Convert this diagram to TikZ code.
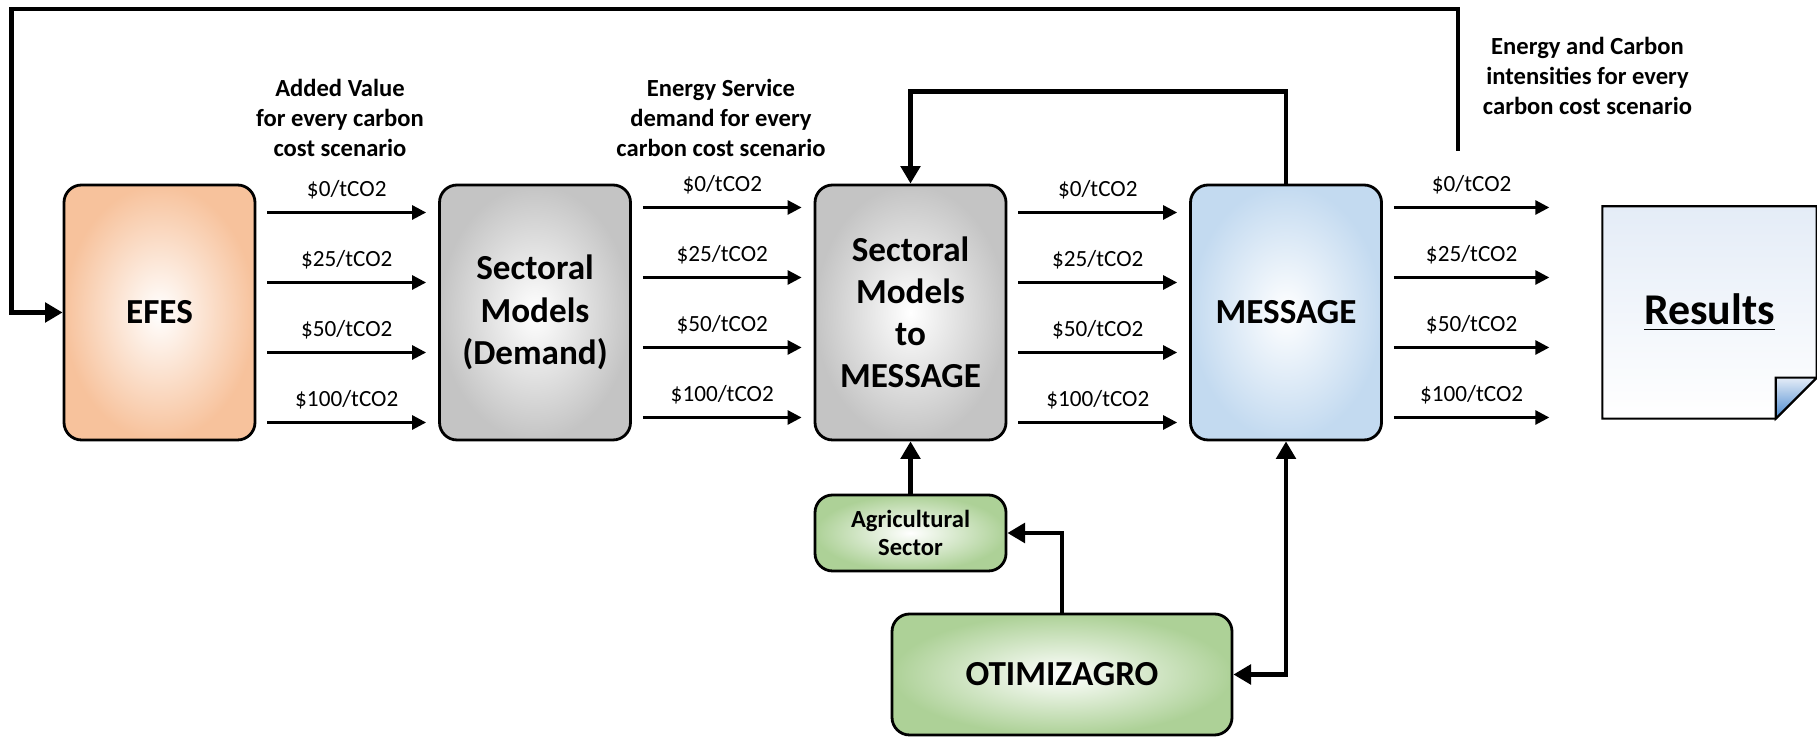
\documentclass[tikz,border=0pt]{standalone}
\usepackage{fontspec}
\setmainfont{Carlito}
\usetikzlibrary{arrows.meta, positioning, calc, backgrounds}
\definecolor{cOrange}{HTML}{F7C29C}
\definecolor{cGray}{HTML}{C4C4C4}
\definecolor{cBlue}{HTML}{C3DAF0}
\definecolor{cGreen}{HTML}{ADD197}
\definecolor{cFold}{HTML}{4A8AD0}
\definecolor{cPage}{HTML}{E4ECF7}

\begin{document}
\begin{tikzpicture}[
  model/.style={draw=black, rounded corners=5pt, line width=0.8pt,
    inner color=white, outer color=#1,
    minimum width=1.91cm, minimum height=2.55cm,
    font=\fontsize{10}{12}\selectfont\bfseries, align=center},
  subbox/.style={model=#1, minimum width=1.91cm, minimum height=0.76cm,
    font=\fontsize{7}{8.2}\selectfont\bfseries},
  flow/.style={-{Triangle[length=4pt,width=4pt]}, line width=0.8pt},
  feedback/.style={-{Triangle[length=5pt,width=5.5pt]}, line width=1.4pt},
  cost/.style={font=\fontsize{6.6}{8}\selectfont, inner sep=1pt, above=2.5pt},
  note/.style={font=\fontsize{7}{8.5}\selectfont\bfseries, align=center}
]
  \useasboundingbox (0,0) rectangle (18.17,7.37);

  \node[model=cOrange] (efes) at (1.595,4.245) {EFES};
  \node[model=cGray] (sm) at (5.35,4.245) {Sectoral\\Models\\(Demand)};
  \node[model=cGray] (smtm) at (9.105,4.245) {Sectoral\\Models\\to\\MESSAGE};
  \node[model=cBlue] (message) at (12.86,4.245) {MESSAGE};
  \node[font=\fontsize{12.5}{14}\selectfont\bfseries, minimum width=2.13cm,
    minimum height=2.11cm] (results) at (17.095,4.245) {\underline{Results}};

  \node[subbox=cGreen] (agri) at (9.105,2.04) {Agricultural\\Sector};
  \node[model=cGreen, minimum width=3.40cm, minimum height=1.21cm] (otim) at (10.62,0.625) {OTIMIZAGRO};

  \begin{scope}[on background layer]
    \draw[line width=0.6pt, top color=cPage, bottom color=white] (results.north west) -- (results.north east)
      -- ([yshift=0.41cm]results.south east) -- ([xshift=-0.41cm]results.south east) -- (results.south west) -- cycle;
    \draw[line width=0.6pt, top color=cPage, bottom color=cFold] ([yshift=0.41cm]results.south east)
      -- ([xshift=-0.41cm,yshift=0.41cm]results.south east) -- ([xshift=-0.41cm]results.south east) -- cycle;
  \end{scope}

  \node[note] (addedval) at (3.40,6.19) {Added Value\\for every carbon\\cost scenario};
  \node[note] (servdem) at (7.21,6.19) {Energy Service\\demand for every\\carbon cost scenario};
  \node[note] (intens) at (15.875,6.61) {Energy and Carbon\\intensities for every\\carbon cost scenario};

  \draw[flow] ([xshift=0.11cm,yshift=1.0cm]efes.east) -- node[cost] {\$0/tCO2} ([xshift=-0.12cm,yshift=1.0cm]sm.west);
  \draw[flow] ([xshift=0.11cm,yshift=0.3cm]efes.east) -- node[cost] {\$25/tCO2} ([xshift=-0.12cm,yshift=0.3cm]sm.west);
  \draw[flow] ([xshift=0.11cm,yshift=-0.4cm]efes.east) -- node[cost] {\$50/tCO2} ([xshift=-0.12cm,yshift=-0.4cm]sm.west);
  \draw[flow] ([xshift=0.11cm,yshift=-1.1cm]efes.east) -- node[cost] {\$100/tCO2} ([xshift=-0.12cm,yshift=-1.1cm]sm.west);

  \draw[flow] ([xshift=0.11cm,yshift=1.05cm]sm.east) -- node[cost] {\$0/tCO2} ([xshift=-0.12cm,yshift=1.05cm]smtm.west);
  \draw[flow] ([xshift=0.11cm,yshift=0.35cm]sm.east) -- node[cost] {\$25/tCO2} ([xshift=-0.12cm,yshift=0.35cm]smtm.west);
  \draw[flow] ([xshift=0.11cm,yshift=-0.35cm]sm.east) -- node[cost] {\$50/tCO2} ([xshift=-0.12cm,yshift=-0.35cm]smtm.west);
  \draw[flow] ([xshift=0.11cm,yshift=-1.05cm]sm.east) -- node[cost] {\$100/tCO2} ([xshift=-0.12cm,yshift=-1.05cm]smtm.west);

  \draw[flow] ([xshift=0.11cm,yshift=1.0cm]smtm.east) -- node[cost] {\$0/tCO2} ([xshift=-0.12cm,yshift=1.0cm]message.west);
  \draw[flow] ([xshift=0.11cm,yshift=0.3cm]smtm.east) -- node[cost] {\$25/tCO2} ([xshift=-0.12cm,yshift=0.3cm]message.west);
  \draw[flow] ([xshift=0.11cm,yshift=-0.4cm]smtm.east) -- node[cost] {\$50/tCO2} ([xshift=-0.12cm,yshift=-0.4cm]message.west);
  \draw[flow] ([xshift=0.11cm,yshift=-1.1cm]smtm.east) -- node[cost] {\$100/tCO2} ([xshift=-0.12cm,yshift=-1.1cm]message.west);

  \draw[flow] ([xshift=0.11cm,yshift=1.05cm]message.east) -- node[cost] {\$0/tCO2} ([xshift=-0.53cm,yshift=1.05cm]results.west);
  \draw[flow] ([xshift=0.11cm,yshift=0.35cm]message.east) -- node[cost] {\$25/tCO2} ([xshift=-0.53cm,yshift=0.35cm]results.west);
  \draw[flow] ([xshift=0.11cm,yshift=-0.35cm]message.east) -- node[cost] {\$50/tCO2} ([xshift=-0.53cm,yshift=-0.35cm]results.west);
  \draw[flow] ([xshift=0.11cm,yshift=-1.05cm]message.east) -- node[cost] {\$100/tCO2} ([xshift=-0.53cm,yshift=-1.05cm]results.west);

  \coordinate (topR) at (14.58,5.86);
  \coordinate (topL) at (0.116,7.28);
  \draw[feedback] (topR) |- (topL) |- (efes.west);
  \draw[feedback] (message.north) -- ++(0,0.92) -| (smtm.north);
  \draw[feedback] (agri.north) -- (smtm.south);
  \draw[feedback] (otim.north) |- (agri.east);
  \draw[feedback, {Triangle[length=5pt,width=5.5pt]}-{Triangle[length=5pt,width=5.5pt]}] (message.south) |- (otim.east);

\end{tikzpicture}
\end{document}
